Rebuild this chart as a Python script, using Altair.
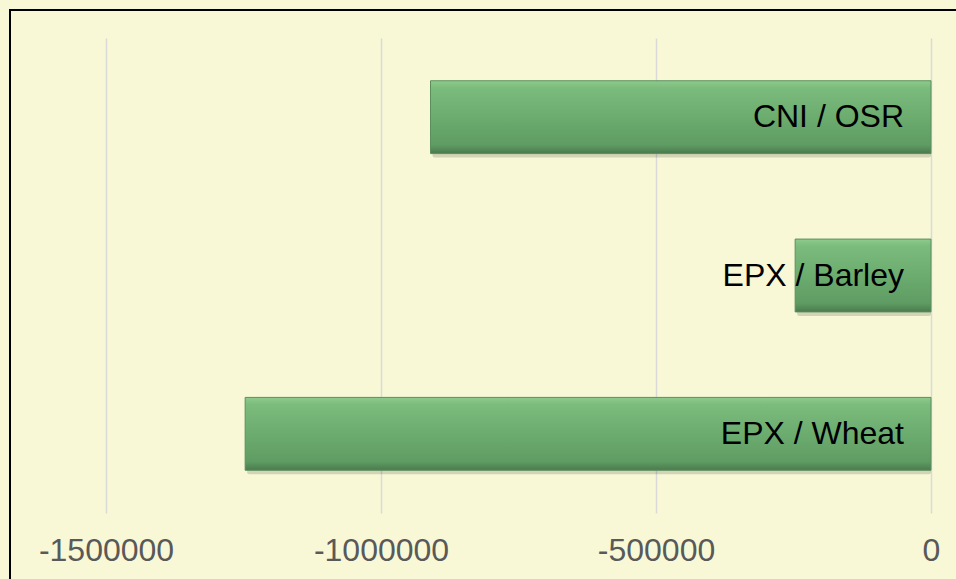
import altair as alt
import pandas as pd

categories = ["CNI / OSR", "EPX / Barley", "EPX / Wheat"]
values = [-910000, -247000, -1247000]
ticks = [-1500000, -1000000, -500000, 0]

df = pd.DataFrame({"cat": categories, "val": values, "zero": [0, 0, 0]})

BG = "#F8F8D6"

x_scale = alt.Scale(domain=[-1500000, 0], nice=False, zero=False)
y_scale = alt.Scale(domain=categories, paddingInner=0.54, paddingOuter=0.27)

x_axis = alt.Axis(values=ticks, grid=True, gridColor="#D9D9D9", gridWidth=1.5,
                  domain=False, ticks=False, labelFont="Liberation Sans",
                  labelFontSize=32, labelColor="#595959", labelPadding=22,
                  title=None, labelExpr="'' + datum.value", labelFlush=False)

base = alt.Chart(df)

border = base.mark_rect(filled=False, fillOpacity=0, stroke="black", strokeWidth=2).encode(
    x=alt.value(-96), x2=alt.value(880), y=alt.value(-28), y2=alt.value(580)
).transform_filter(alt.datum.cat == categories[0])

grid = base.mark_bar(opacity=0).encode(
    x=alt.X("zero:Q", scale=x_scale, axis=x_axis),
    y=alt.Y("cat:N", scale=y_scale, axis=None, sort=categories),
)

shadow = base.mark_bar(color="#000000", opacity=0.15, xOffset=2, yOffset=4,
                       cornerRadius=2).encode(
    x=alt.X("val:Q", scale=x_scale),
    x2="zero:Q",
    y=alt.Y("cat:N", scale=y_scale, sort=categories),
)

bars = base.mark_bar(
    color={"gradient": "linear", "x1": 0, "y1": 0, "x2": 0, "y2": 1,
           "stops": [{"offset": 0, "color": "#8ECB8D"},
                     {"offset": 0.1, "color": "#7BBB7C"},
                     {"offset": 0.5, "color": "#6CAC6F"},
                     {"offset": 0.88, "color": "#5F9C63"},
                     {"offset": 1, "color": "#4A7A4E"}]},
    stroke="#5A8F5D", strokeWidth=1,
).encode(
    x=alt.X("val:Q", scale=x_scale),
    x2="zero:Q",
    y=alt.Y("cat:N", scale=y_scale, sort=categories),
)

labels = base.mark_text(align="right", baseline="middle", dx=-27,
                        font="Liberation Sans", fontSize=32, color="black").encode(
    x=alt.X("zero:Q", scale=x_scale),
    y=alt.Y("cat:N", scale=y_scale, sort=categories),
    text="cat:N",
)

chart = alt.layer(border, grid, shadow, bars, labels).properties(
    width=825, height=475,
    autosize=alt.AutoSizeParams(type="none"),
    padding={"left": 106, "top": 38, "right": 25, "bottom": 66},
    background=BG,
).configure_view(stroke=None)

chart.save("out.html", embed_options={"renderer": "svg", "actions": False})
